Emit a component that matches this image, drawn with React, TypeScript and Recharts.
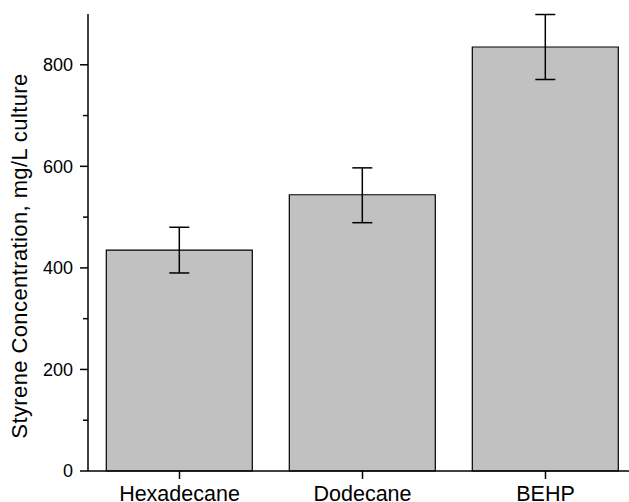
import React from 'react';
import { BarChart, Bar, XAxis, YAxis, ErrorBar } from 'recharts';

const solvents = ['Hexadecane', 'Dodecane', 'BEHP'];
const styrene = [435, 544, 835];
const errLow = [390, 489, 771];
const errHigh = [480, 597, 899];
const yTicks = [0, 100, 200, 300, 400, 500, 600, 700, 800];
const yLabelTicks = [0, 200, 400, 600, 800];

const data = solvents.map((name, i) => ({
  name,
  value: styrene[i],
  err: [styrene[i] - errLow[i], errHigh[i] - styrene[i]],
}));

const FONT = '"Liberation Sans", Arial, sans-serif';
const TICK_SIZE = 8;
const TICK_MARGIN = 7;

// left axis ticks: long for labelled ones, short for the minor ones
const YTick = (props: any) => {
  const { x, y, payload } = props;
  const axisX = x + TICK_SIZE + TICK_MARGIN;
  const major = yLabelTicks.includes(payload.value);
  return (
    <g>
      <line x1={axisX - (major ? 8 : 5)} x2={axisX} y1={y} y2={y} stroke="#000" strokeWidth={1.5} />
      {major && (
        <text x={x} y={y} dy="0.355em" textAnchor="end" fontSize={18} fontFamily={FONT} fill="#000">
          {payload.value}
        </text>
      )}
    </g>
  );
};

const YTitle = () => (
  <text
    x={27}
    y={256}
    transform="rotate(-90 27 256)"
    textAnchor="middle"
    fontSize={22}
    letterSpacing={0.4}
    fontFamily={FONT}
    fill="#000"
  >
    Styrene Concentration, mg/L culture
  </text>
);

const App = () => {
  return (
    <div style={{ position: 'absolute', left: 0, top: 0, width: 629, height: 502, overflow: 'hidden', background: '#fff' }}>
      <BarChart
        width={637}
        height={502}
        data={data}
        margin={{ top: 14, right: 0, bottom: 0, left: 0 }}
        barCategoryGap="10%"
      >
        <XAxis
          xAxisId="top"
          orientation="top"
          dataKey="name"
          height={0}
          tick={false}
          tickLine={false}
          axisLine={{ stroke: '#000', strokeWidth: 1.5 }}
        />
        <XAxis
          dataKey="name"
          height={31}
          tickSize={TICK_SIZE}
          tickMargin={TICK_MARGIN}
          axisLine={{ stroke: '#000', strokeWidth: 1.5 }}
          tickLine={{ stroke: '#000', strokeWidth: 1.5 }}
          tick={{ fontSize: 21.5, fontFamily: FONT, fill: '#000' }}
          interval={0}
        />
        <YAxis
          width={88}
          domain={[0, 900]}
          ticks={yTicks}
          interval={0}
          tickSize={TICK_SIZE}
          tickMargin={TICK_MARGIN}
          tickLine={false}
          axisLine={{ stroke: '#000', strokeWidth: 1.5 }}
          tick={<YTick />}
          label={{ content: <YTitle /> }}
        />
        <Bar dataKey="value" fill="#c2c1c2" stroke="#000" strokeWidth={1.2} isAnimationActive={false}>
          <ErrorBar dataKey="err" width={10} stroke="#000" strokeWidth={1.5} />
        </Bar>
      </BarChart>
    </div>
  );
};

export default App;
